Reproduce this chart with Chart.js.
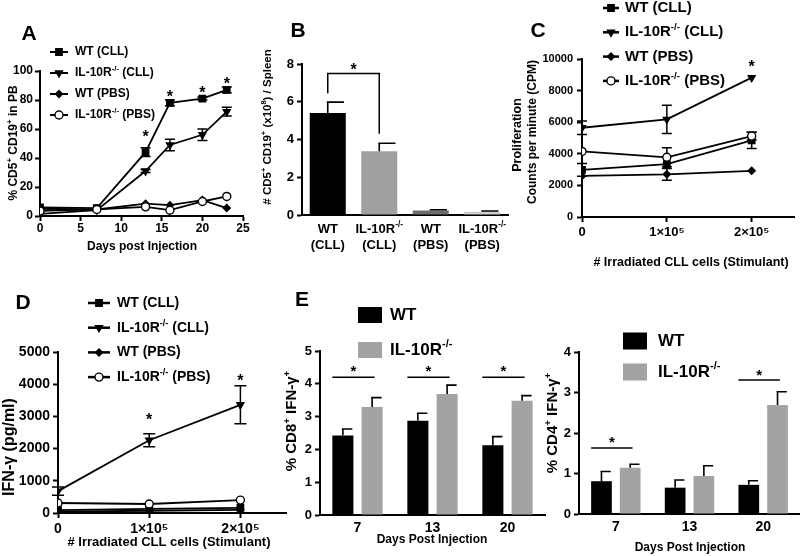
<!DOCTYPE html>
<html>
<head>
<meta charset="utf-8">
<script src="https://cdn.jsdelivr.net/npm/chart.js@4.4.0/dist/chart.umd.min.js"></script>
<style>
html, body { margin: 0; padding: 0; background: #fff; }
#wrap { position: relative; width: 800px; height: 556px; overflow: hidden; }
#wrap canvas { position: absolute; left: 0; top: 0; }
</style>
</head>
<body>
<div id="wrap">
  <canvas id="chartA" width="800" height="556"></canvas>
  <canvas id="chartB" width="800" height="556"></canvas>
  <canvas id="chartC" width="800" height="556"></canvas>
  <canvas id="chartD" width="800" height="556"></canvas>
  <canvas id="chartE1" width="800" height="556"></canvas>
  <canvas id="chartE2" width="800" height="556"></canvas>
</div>
<script>
// ---- data ----
const seriesNames = ['WT (CLL)', 'IL-10R⁻/⁻ (CLL)', 'WT (PBS)', 'IL-10R⁻/⁻ (PBS)'];

// A: % CD5+ CD19+ in PB over days
const daysA = [0, 7, 13, 16, 20, 23];
const aWtCll = [6, 5.5, 44, 78, 81, 87];
const aWtCllErr = [0, 0, 3, 2, 1, 2];
const aKoCll = [1.5, 4, 31, 49, 56, 72];
const aKoCllErr = [0, 0, 1, 4, 4, 3];
const aWtPbs = [5, 4.5, 8.5, 7.5, 11, 5.5];
const aKoPbs = [3.5, 4.5, 6.3, 4, 10, 13.5];
const aStarDays = [13, 16, 20, 23];
const aStarY = [57, 85, 87.5, 94];

// B: CD5+ CD19+ per spleen
const bLabels = [['WT', '(CLL)'], ['IL-10R⁻/⁻', '(CLL)'], ['WT', '(PBS)'], ['IL-10R⁻/⁻', '(PBS)']];
const bValues = [5.4, 3.38, 0.24, 0.17];
const bErr = [0.58, 0.42, 0.04, 0.04];
const bColors = ['#000000', '#a0a0a0', '#6e6e6e', '#cdcdcd'];
const bBracket = { from: 0, to: 1, y: 7.5, leftEnd: 6.45, rightEnd: 4.3, starY: 7.9 };

// C: proliferation (CPM) vs irradiated CLL cells
const cellsX = [0, 100000, 200000];
const cellTicks = [0, 100000, 200000];
const cellTickLabels = ['0', '1×10⁵', '2×10⁵'];
const cWtCll = [2980, 3350, 4850];
const cWtCllErr = [400, 0, 520];
const cKoCll = [5650, 6180, 8820];
const cKoCllErr = [430, 890, 0];
const cWtPbs = [2600, 2700, 2920];
const cWtPbsErr = [0, 370, 0];
const cKoPbs = [4150, 3780, 5120];
const cKoPbsErr = [0, 600, 250];
const cStarX = [200000];
const cStarY = [9750];

// D: IFN-gamma (pg/ml)
const dWtCll = [90, 130, 160];
const dKoCll = [680, 2260, 3360];
const dKoCllErr = [130, 200, 590];
const dWtPbs = [40, 70, 100];
const dKoPbs = [310, 280, 400];
const dStarX = [100000, 200000];
const dStarY = [3000, 4230];

// E: % IFN-gamma+ T cells by day
const eDays = ['7', '13', '20'];
const eGroups = ['WT', 'IL-10R⁻/⁻'];
const e1Wt = [2.42, 2.87, 2.13];
const e1WtErr = [0.2, 0.23, 0.26];
const e1Ko = [3.29, 3.69, 3.48];
const e1KoErr = [0.29, 0.27, 0.16];
const e1SigIdx = [0, 1, 2];
const e1SigY = [4.2, 4.2, 4.2];
const e1StarY = [4.5, 4.5, 4.5];
const e2Wt = [0.81, 0.65, 0.72];
const e2WtErr = [0.24, 0.19, 0.1];
const e2Ko = [1.14, 0.94, 2.69];
const e2KoErr = [0.09, 0.25, 0.33];
const e2SigIdx = [0, 2];
const e2SigY = [1.63, 3.31];
const e2StarY = [1.85, 3.52];

// ---- text helpers ----
const FONT = '"Liberation Sans", Arial, sans-serif';
Chart.defaults.font.family = FONT;
Chart.defaults.color = '#000';

const SUP = { '⁺': '+', '⁻': '-', '⁰': '0', '¹': '1', '²': '2', '³': '3', '⁴': '4', '⁵': '5', '⁶': '6', '⁷': '7', '⁸': '8', '⁹': '9' };
function splitRich(str) {
  const re = /([⁺⁻⁰¹²³⁴⁵⁶⁷⁸⁹](?:\/?[⁺⁻⁰¹²³⁴⁵⁶⁷⁸⁹])*)/g;
  const parts = [];
  let last = 0, m;
  while ((m = re.exec(str))) {
    if (m.index > last) parts.push({ t: str.slice(last, m.index) });
    parts.push({ t: m[1].replace(/./g, c => SUP[c] || c), sup: true });
    last = re.lastIndex;
  }
  if (last < str.length) parts.push({ t: str.slice(last) });
  return parts;
}
function setFont(ctx, size) { ctx.font = 'bold ' + size + 'px ' + FONT; }
function drawRich(ctx, str, x, y, size, align) {
  const parts = splitRich(str);
  let w = 0;
  parts.forEach(p => { setFont(ctx, p.sup ? size * 0.65 : size); p.w = ctx.measureText(p.t).width; w += p.w; });
  let cx = align === 'center' ? x - w / 2 : (align === 'right' ? x - w : x);
  ctx.textAlign = 'left';
  ctx.textBaseline = 'middle';
  ctx.fillStyle = '#000';
  parts.forEach(p => {
    setFont(ctx, p.sup ? size * 0.65 : size);
    ctx.fillText(p.t, cx, p.sup ? y - size * 0.33 : y);
    cx += p.w;
  });
}
function drawRotated(ctx, str, x, y, size) {
  ctx.save();
  ctx.translate(x, y);
  ctx.rotate(-Math.PI / 2);
  drawRich(ctx, str, 0, 0, size, 'center');
  ctx.restore();
}
function drawStar(ctx, x, y, size) {
  setFont(ctx, size);
  ctx.textAlign = 'center';
  ctx.textBaseline = 'alphabetic';
  ctx.fillStyle = '#000';
  ctx.fillText('*', x, y + size * 0.55);
}

// ---- chart helpers ----
const plainNumber = v => String(v);

function axis(o) {
  const isX = o.pos === 'x';
  const box = o.box || 30;
  const a = {
    type: o.type || 'linear',
    ticks: {
      color: '#000',
      font: { family: FONT, size: o.size, weight: 'bold' },
      padding: o.pad != null ? o.pad : 3,
      display: o.labels !== false,
      maxRotation: 0,
      autoSkip: false
    },
    grid: {
      display: true,
      drawOnChartArea: false,
      drawTicks: true,
      offset: false,
      tickLength: 5,
      tickWidth: 2,
      color: '#000',
      tickColor: o.noTicks ? 'rgba(0,0,0,0)' : '#000'
    },
    border: { display: true, color: '#000', width: 2 },
    afterFit: s => { if (isX) s.height = box; else s.width = box; }
  };
  if (o.min != null) a.min = o.min;
  if (o.max != null) a.max = o.max;
  if (o.step != null) a.ticks.stepSize = o.step;
  if (o.cb) a.ticks.callback = o.cb;
  else if (a.type === 'linear') a.ticks.callback = plainNumber;
  if (o.tickValues) a.afterBuildTicks = s => { s.ticks = o.tickValues.map(v => ({ value: v })); };
  return a;
}

function baseOptions(padding, x, y) {
  return {
    responsive: false,
    animation: false,
    devicePixelRatio: 1,
    events: [],
    layout: { padding: padding },
    plugins: { legend: { display: false }, tooltip: { enabled: false } },
    scales: { x: x, y: y }
  };
}

const STYLES = [
  { ps: 'rect', rot: 0, fill: '#000', r: 4.5 },
  { ps: 'triangle', rot: 180, fill: '#000', r: 4 },
  { ps: 'rectRot', rot: 0, fill: '#000', r: 3.5 },
  { ps: 'circle', rot: 0, fill: '#fff', r: 4 }
];

function lineSet(i, xs, ys, errs) {
  const s = STYLES[i];
  return {
    label: seriesNames[i],
    data: xs.map((x, j) => ({ x: x, y: ys[j] })),
    errorBars: errs || null,
    borderColor: '#000',
    borderWidth: 1.8,
    tension: 0,
    fill: false,
    pointStyle: s.ps,
    pointRotation: s.rot,
    pointRadius: s.r,
    pointBackgroundColor: s.fill,
    pointBorderColor: '#000',
    pointBorderWidth: 1.4,
    order: i === 3 ? -1 : i
  };
}

function decor(cfg) {
  return {
    id: 'decor',
    beforeDatasetsDraw(chart) {
      if (!cfg.under) return;
      const ctx = chart.ctx;
      ctx.save();
      ctx.strokeStyle = '#000';
      cfg.under(chart, ctx);
      ctx.restore();
    },
    afterDatasetsDraw(chart) {
      const ctx = chart.ctx;
      ctx.save();
      ctx.strokeStyle = '#000';
      ctx.fillStyle = '#000';
      if (cfg.draw) cfg.draw(chart, ctx);
      (cfg.texts || []).forEach(t => {
        if (t.rot) drawRotated(ctx, t.text, t.x, t.y, t.size);
        else drawRich(ctx, t.text, t.x, t.y, t.size, t.align || 'center');
      });
      if (cfg.letter) drawRich(ctx, cfg.letter[0], cfg.letter[1], cfg.letter[2], 21, 'center');
      ctx.restore();
    }
  };
}

function lineErrors(chart, ctx, capHalf) {
  const ys = chart.scales.y;
  chart.data.datasets.forEach((ds, i) => {
    if (!ds.errorBars) return;
    chart.getDatasetMeta(i).data.forEach((pt, j) => {
      const e = ds.errorBars[j];
      if (!e) return;
      const v = ds.data[j].y;
      const top = ys.getPixelForValue(v + e);
      const bot = ys.getPixelForValue(Math.max(v - e, 0));
      ctx.lineWidth = 1.5;
      ctx.beginPath();
      ctx.moveTo(pt.x, top); ctx.lineTo(pt.x, bot);
      ctx.moveTo(pt.x - capHalf, top); ctx.lineTo(pt.x + capHalf, top);
      ctx.moveTo(pt.x - capHalf, bot); ctx.lineTo(pt.x + capHalf, bot);
      ctx.stroke();
    });
  });
}

function barErrors(chart, ctx) {
  const ys = chart.scales.y;
  chart.data.datasets.forEach((ds, i) => {
    chart.getDatasetMeta(i).data.forEach((bar, j) => {
      const e = ds.errorBars[j];
      const top = ys.getPixelForValue(ds.data[j] + e);
      ctx.lineWidth = 1.6;
      ctx.beginPath();
      ctx.moveTo(bar.x, bar.y); ctx.lineTo(bar.x, top);
      ctx.moveTo(bar.x - 1, top); ctx.lineTo(bar.x + bar.width * 0.45, top);
      ctx.stroke();
    });
  });
}

function lineLegend(chart, ctx, L) {
  chart.data.datasets.forEach((ds, i) => {
    const y = L.y + i * L.rowH;
    ctx.strokeStyle = '#000';
    ctx.lineWidth = L.lw;
    ctx.beginPath(); ctx.moveTo(L.x, y); ctx.lineTo(L.x + L.len, y); ctx.stroke();
    ctx.fillStyle = ds.pointBackgroundColor;
    ctx.lineWidth = 1.4;
    const opts = { pointStyle: ds.pointStyle, rotation: ds.pointRotation, radius: ds.pointRadius, borderWidth: 1.4 };
    if (Chart.helpers && Chart.helpers.drawPoint) {
      Chart.helpers.drawPoint(ctx, opts, L.x + L.len / 2, y);
    } else {
      ctx.beginPath(); ctx.arc(L.x + L.len / 2, y, ds.pointRadius, 0, Math.PI * 2); ctx.fill(); ctx.stroke();
    }
    drawRich(ctx, ds.label, L.x + L.len + L.gap, y, L.size, 'left');
  });
}

function barLegend(chart, ctx, L) {
  chart.data.datasets.forEach((ds, i) => {
    const y = L.y + i * L.rowH;
    ctx.fillStyle = ds.backgroundColor;
    ctx.fillRect(L.x, y - L.h / 2, L.w, L.h);
    drawRich(ctx, ds.label, L.x + L.w + L.gap, y, L.size, 'left');
  });
}

function starsAt(chart, ctx, xs, ys, size) {
  xs.forEach((x, i) => {
    drawStar(ctx, chart.scales.x.getPixelForValue(x), chart.scales.y.getPixelForValue(ys[i]), size);
  });
}

function sigLines(chart, ctx, idx, lineY, starY) {
  const m0 = chart.getDatasetMeta(0), m1 = chart.getDatasetMeta(1);
  idx.forEach((j, k) => {
    const a = m0.data[j], b = m1.data[j];
    const x0 = a.x - a.width / 2, x1 = b.x + b.width / 2 - 8;
    const y = chart.scales.y.getPixelForValue(lineY[k]);
    ctx.lineWidth = 1.5;
    ctx.beginPath(); ctx.moveTo(x0, y); ctx.lineTo(x1, y); ctx.stroke();
    drawStar(ctx, (x0 + x1) / 2, chart.scales.y.getPixelForValue(starY[k]), 15);
  });
}

// ---- Panel A ----
new Chart(document.getElementById('chartA'), {
  type: 'line',
  data: { datasets: [
    lineSet(0, daysA, aWtCll, aWtCllErr),
    lineSet(1, daysA, aKoCll, aKoCllErr),
    lineSet(2, daysA, aWtPbs),
    lineSet(3, daysA, aKoPbs)
  ] },
  options: baseOptions(
    { left: 10, top: 71, right: 557, bottom: 310 },
    axis({ pos: 'x', min: 0, max: 25, step: 5, size: 12, pad: 0 }),
    axis({ pos: 'y', min: 0, max: 100, step: 20, size: 12, pad: 2 })
  ),
  plugins: [decor({
    letter: ['A', 29, 34],
    under: (c, ctx) => lineErrors(c, ctx, 5),
    draw: (c, ctx) => {
      lineLegend(c, ctx, { x: 50, y: 52, rowH: 21, len: 18, gap: 7, lw: 2, size: 12 });
      starsAt(c, ctx, aStarDays, aStarY, 16);
    },
    texts: [
      { text: '% CD5⁺ CD19⁺ in PB', x: 14, y: 143, size: 12, rot: true },
      { text: 'Days post Injection', x: 142, y: 247, size: 12 }
    ]
  })]
});

// ---- Panel B ----
new Chart(document.getElementById('chartB'), {
  type: 'bar',
  data: {
    labels: bLabels.map(l => l.join(' ')),
    datasets: [{ label: 'Spleen', data: bValues, errorBars: bErr, backgroundColor: bColors, barPercentage: 0.7, categoryPercentage: 1 }]
  },
  options: baseOptions(
    { left: 272, top: 64, right: 292, bottom: 311 },
    axis({ pos: 'x', type: 'category', size: 13, labels: false, noTicks: true }),
    axis({ pos: 'y', min: 0, max: 8, step: 2, size: 13 })
  ),
  plugins: [decor({
    letter: ['B', 298, 31],
    draw: (c, ctx) => {
      barErrors(c, ctx);
      const xs = c.scales.x, ys = c.scales.y;
      const x0 = xs.getPixelForValue(bBracket.from), x1 = xs.getPixelForValue(bBracket.to);
      const yT = ys.getPixelForValue(bBracket.y);
      ctx.lineWidth = 1.5;
      ctx.beginPath();
      ctx.moveTo(x0, ys.getPixelForValue(bBracket.leftEnd)); ctx.lineTo(x0, yT);
      ctx.lineTo(x1, yT); ctx.lineTo(x1, ys.getPixelForValue(bBracket.rightEnd));
      ctx.stroke();
      drawStar(ctx, (x0 + x1) / 2, ys.getPixelForValue(bBracket.starY), 16);
      bLabels.forEach((l, i) => {
        const x = xs.getPixelForValue(i);
        drawRich(ctx, l[0], x, 229, 13, 'center');
        drawRich(ctx, l[1], x, 245, 13, 'center');
      });
    },
    texts: [
      { text: '# CD5⁺ CD19⁺ (x10⁸) / Spleen', x: 268, y: 127, size: 11.5, rot: true }
    ]
  })]
});

// ---- Panel C ----
const cellTickCb = v => cellTickLabels[cellTicks.indexOf(v)] || '';
new Chart(document.getElementById('chartC'), {
  type: 'line',
  data: { datasets: [
    lineSet(0, cellsX, cWtCll, cWtCllErr),
    lineSet(1, cellsX, cKoCll, cKoCllErr),
    lineSet(2, cellsX, cWtPbs, cWtPbsErr),
    lineSet(3, cellsX, cKoPbs, cKoPbsErr)
  ] },
  options: baseOptions(
    { left: 532, top: 59, right: 0, bottom: 309 },
    axis({ pos: 'x', min: 0, max: 250000, size: 13, tickValues: cellTicks, cb: cellTickCb }),
    axis({ pos: 'y', min: 0, max: 10000, step: 2000, size: 11, box: 50, pad: 4 })
  ),
  plugins: [decor({
    letter: ['C', 538, 31],
    under: (c, ctx) => lineErrors(c, ctx, 5),
    draw: (c, ctx) => {
      lineLegend(c, ctx, { x: 603, y: 8, rowH: 24.3, len: 16, gap: 6, lw: 2.5, size: 15 });
      starsAt(c, ctx, cStarX, cStarY, 16);
    },
    texts: [
      { text: 'Proliferation', x: 518, y: 135, size: 12.5, rot: true },
      { text: 'Counts per minute (CPM)', x: 533, y: 132, size: 12, rot: true },
      { text: '# Irradiated CLL cells (Stimulant)', x: 691, y: 263, size: 12.5 }
    ]
  })]
});

// ---- Panel D ----
new Chart(document.getElementById('chartD'), {
  type: 'line',
  data: { datasets: [
    lineSet(0, cellsX, dWtCll),
    lineSet(1, cellsX, dKoCll, dKoCllErr),
    lineSet(2, cellsX, dWtPbs),
    lineSet(3, cellsX, dKoPbs)
  ] },
  options: baseOptions(
    { left: 8, top: 352, right: 514, bottom: 13 },
    axis({ pos: 'x', min: 0, max: 250000, size: 14, tickValues: cellTicks, cb: cellTickCb }),
    axis({ pos: 'y', min: 0, max: 5000, step: 1000, size: 14, box: 50 })
  ),
  plugins: [decor({
    letter: ['D', 23, 303],
    under: (c, ctx) => lineErrors(c, ctx, 6),
    draw: (c, ctx) => {
      lineLegend(c, ctx, { x: 88, y: 303, rowH: 24.7, len: 22, gap: 7, lw: 2.5, size: 14 });
      starsAt(c, ctx, dStarX, dStarY, 16);
    },
    texts: [
      { text: 'IFN-γ (pg/ml)', x: 10, y: 447, size: 16, rot: true },
      { text: '# Irradiated CLL cells (Stimulant)', x: 169, y: 542, size: 13 }
    ]
  })]
});

// ---- Panel E ----
function eChart(id, wt, wtErr, ko, koErr, yMax, padding, cfg) {
  return new Chart(document.getElementById(id), {
    type: 'bar',
    data: {
      labels: eDays,
      datasets: [
        { label: eGroups[0], data: wt, errorBars: wtErr, backgroundColor: '#000000', barPercentage: 0.72, categoryPercentage: 0.78 },
        { label: eGroups[1], data: ko, errorBars: koErr, backgroundColor: '#a3a3a3', barPercentage: 0.72, categoryPercentage: 0.78 }
      ]
    },
    options: baseOptions(
      padding,
      axis({ pos: 'x', type: 'category', size: 14, noTicks: true, pad: 0 }),
      axis({ pos: 'y', min: 0, max: yMax, step: 1, size: 13 })
    ),
    plugins: [decor(cfg)]
  });
}

eChart('chartE1', e1Wt, e1WtErr, e1Ko, e1KoErr, 5, { left: 290, top: 351, right: 255, bottom: 11 }, {
  letter: ['E', 302, 300],
  draw: (c, ctx) => {
    barErrors(c, ctx);
    sigLines(c, ctx, e1SigIdx, e1SigY, e1StarY);
    barLegend(c, ctx, { x: 358, y: 315, rowH: 35, w: 24, h: 16, gap: 8, size: 17 });
  },
  texts: [
    { text: '% CD8⁺ IFN-γ⁺', x: 292, y: 421, size: 15, rot: true },
    { text: 'Days Post Injection', x: 432, y: 540, size: 12 }
  ]
});

eChart('chartE2', e2Wt, e2WtErr, e2Ko, e2KoErr, 4, { left: 549, top: 352, right: 0, bottom: 12 }, {
  draw: (c, ctx) => {
    barErrors(c, ctx);
    sigLines(c, ctx, e2SigIdx, e2SigY, e2StarY);
    barLegend(c, ctx, { x: 623, y: 341, rowH: 31, w: 24, h: 17, gap: 11, size: 17 });
  },
  texts: [
    { text: '% CD4⁺ IFN-γ⁺', x: 553, y: 423, size: 15, rot: true },
    { text: 'Days Post Injection', x: 690, y: 548, size: 12 }
  ]
});
</script>
</body>
</html>
